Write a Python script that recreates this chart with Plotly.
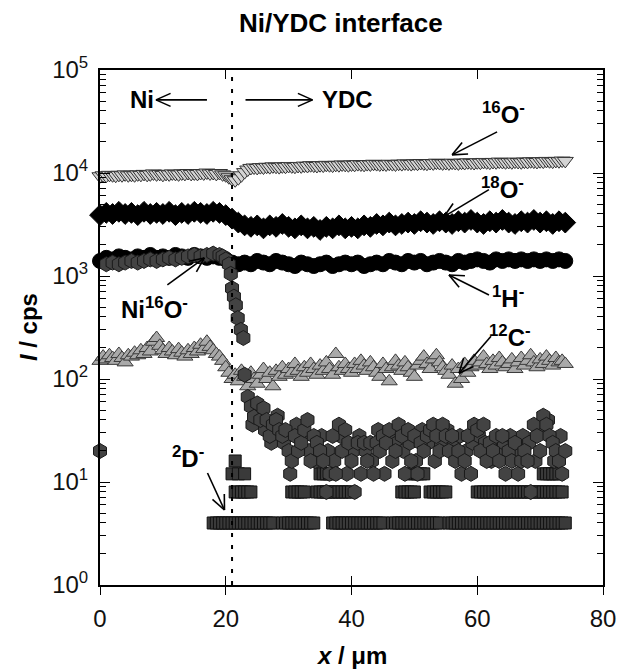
import math
import plotly.graph_objects as go

# ---------------- data ----------------
x_half = [i * 0.5 for i in range(149)]      # 0 .. 74 um, 0.5 um steps
x_one = [i * 1.0 for i in range(75)]        # 0 .. 74 um, 1 um steps

o16 = [9300, 9500, 9400, 9600, 9500, 9400, 9600, 9500, 9700, 9500,
       9600, 9500, 9700, 9600, 9800, 9600, 9700, 9900, 9700, 9800,
       9600, 9800, 9700, 9900, 9800, 9700, 9900, 9800, 10000, 9800,
       9900, 9800, 10000, 9900, 10100, 9900, 10000, 9800, 10000, 9700,
       9500, 9100, 8700, 8500, 8900, 9500, 10200, 10800, 11200, 11300,
       11200, 11400, 11300, 11500, 11400, 11600, 11500, 11400, 11600, 11500,
       11700, 11600, 11500, 11700, 11600, 11800, 11700, 11900, 11800, 11700,
       11900, 11800, 12000, 11900, 11800, 12000, 11900, 12100, 12000, 11900,
       12100, 12000, 12200, 12100, 12000, 12200, 12100, 12300, 12200, 12100,
       12200, 12100, 12300, 12200, 12100, 12300, 12200, 12400, 12300, 12200,
       12400, 12300, 12500, 12400, 12300, 12500, 12400, 12600, 12500, 12400,
       12500, 12400, 12600, 12500, 12400, 12600, 12500, 12700, 12600, 12500,
       12700, 12600, 12800, 12700, 12600, 12800, 12700, 12900, 12800, 12700,
       12800, 12700, 12900, 12800, 12700, 12900, 12800, 13000, 12900, 12800,
       13000, 12900, 13100, 13000, 12900, 13100, 13000, 13200, 13100]

o18 = [3900, 4100, 4000, 4200, 4000, 4100, 3900, 4200, 4000, 4100,
       4000, 4200, 3900, 4100, 4000, 4200, 4100, 4000, 4200, 4100,
       3900, 3600, 3300, 3100, 3000, 3100, 2900, 3100, 3000, 3200,
       3000, 2900, 3100, 2900, 3000, 2800, 3000, 2900, 3100, 2900,
       3000, 2900, 3100, 3000, 3200, 3100, 3300, 3100, 3200, 3300,
       3200, 3400, 3300, 3200, 3400, 3300, 3200, 3400, 3300, 3500,
       3300, 3200, 3400, 3300, 3500, 3300, 3200, 3400, 3300, 3500,
       3300, 3400, 3200, 3400, 3300]

h1 = [1400, 1500, 1450, 1550, 1500, 1450, 1550, 1500, 1600, 1500,
      1550, 1500, 1600, 1550, 1500, 1600, 1550, 1500, 1550, 1500,
      1450, 1350, 1300, 1350, 1300, 1400, 1350, 1300, 1400, 1350,
      1300, 1250, 1350, 1300, 1250, 1300, 1350, 1250, 1300, 1350,
      1300, 1350, 1250, 1300, 1350, 1300, 1400, 1350, 1300, 1400,
      1350, 1400, 1300, 1350, 1400, 1350, 1300, 1400, 1350, 1400,
      1450, 1400, 1350, 1450, 1400, 1450, 1400, 1450, 1400, 1450,
      1400, 1450, 1400, 1450, 1400]

c12 = [150, 165, 155, 170, 160, 150, 175, 160, 145, 170,
       165, 180, 170, 190, 175, 200, 185, 230, 250, 210,
       190, 175, 200, 185, 170, 195, 180, 165, 190, 175,
       200, 185, 215, 195, 230, 205, 190, 175, 165, 150,
       130, 115, 100, 110, 95, 120, 105, 85, 115, 100,
       90, 110, 125, 100, 115, 85, 120, 105, 130, 110,
       125, 115, 140, 120, 105, 130, 115, 140, 125, 110,
       135, 120, 145, 125, 110, 175, 130, 120, 140, 125,
       115, 140, 125, 150, 135, 120, 145, 130, 115, 105,
       140, 125, 95, 130, 150, 135, 120, 145, 130, 115,
       105, 135, 150, 165, 140, 125, 155, 170, 145, 130,
       120, 110, 135, 90, 125, 100, 140, 115, 130, 150,
       135, 145, 165, 140, 125, 150, 135, 160, 145, 130,
       140, 155, 125, 145, 160, 135, 150, 170, 145, 130,
       155, 140, 165, 150, 135, 160, 145, 150, 140]

nio_x = [0, 1, 2, 3, 4, 5, 6, 7, 8, 9, 10, 11, 12, 13, 14, 15, 16, 17, 18, 19,
         19.5, 20, 20.5, 20.8, 21.0, 21.3, 21.6, 21.9, 22.4, 22.8,
         23.0, 23.5, 24.0, 24.5, 25.0, 25.5, 26.0, 26.5, 27.0, 27.5,
         28.0, 28.5, 29.0, 29.5, 30.0, 30.5, 31.0, 31.5, 32.0, 32.5,
         33.0, 33.5, 34.0, 34.5, 35.0, 35.5, 36.0, 36.5, 37.0, 37.5,
         38.0, 38.5, 39.0, 39.5, 40.0, 40.5, 41.0, 41.5, 42.0, 42.5,
         43.0, 43.5, 44.0, 44.5, 45.0, 45.5, 46.0, 46.5, 47.0, 47.5,
         48.0, 48.5, 49.0, 49.5, 50.0, 50.5, 51.0, 51.5, 52.0, 52.5,
         53.0, 53.5, 54.0, 54.5, 55.0, 55.5, 56.0, 56.5, 57.0, 57.5,
         58.0, 58.5, 59.0, 59.5, 60.0, 60.5, 61.0, 61.5, 62.0, 62.5,
         63.0, 63.5, 64.0, 64.5, 65.0, 65.5, 66.0, 66.5, 67.0, 67.5,
         68.0, 68.5, 69.0, 69.5, 70.0, 70.5, 71.0, 71.5, 72.0, 72.5,
         73.0, 73.5, 74.0]
nio_y = [20, 1300, 1350, 1300, 1350, 1400, 1350, 1400, 1450, 1400, 1450, 1500, 1450, 1500,
         1550, 1600, 1550, 1600, 1650, 1600,
         1550, 1450, 1300, 1050, 760, 630, 520, 390, 300, 250,
         110, 67, 54, 43, 58, 40, 52, 40, 28, 36,
         40, 32, 28, 32, 20, 16, 28, 20, 24, 32,
         40, 16, 28, 24, 20, 16, 8, 12, 28, 12,
         36, 20, 32, 24, 16, 8, 24, 12, 24, 16,
         24, 12, 24, 20, 28, 24, 32, 16, 20, 36,
         28, 12, 32, 16, 28, 12, 24, 20, 28, 32,
         36, 28, 20, 36, 28, 20, 28, 16, 20, 12,
         16, 28, 12, 36, 32, 20, 36, 16, 24, 20,
         28, 16, 28, 12, 20, 16, 24, 12, 16, 20,
         16, 8, 36, 28, 20, 44, 36, 28, 24, 20,
         16, 12, 20]
# second NiO sub-scan (interleaved positions) after the interface
nio_x2 = [24.25, 25.25, 26.25, 27.25, 28.25, 29.25, 30.25, 31.25, 32.25, 33.25,
          34.25, 35.25, 36.25, 37.25, 38.25, 39.25, 40.25, 41.25, 42.25, 43.25,
          44.25, 45.25, 46.25, 47.25, 48.25, 49.25, 50.25, 51.25, 52.25, 53.25,
          54.25, 55.25, 56.25, 57.25, 58.25, 59.25, 60.25, 61.25, 62.25, 63.25,
          64.25, 65.25, 66.25, 67.25, 68.25, 69.25, 70.25, 71.25, 72.25, 73.25]
nio_y2 = [36, 48, 32, 24, 44, 24, 12, 36, 28, 20,
          16, 28, 20, 16, 28, 12, 20, 28, 20, 16,
          32, 12, 28, 24, 20, 24, 16, 32, 24, 16,
          24, 32, 24, 28, 20, 24, 28, 24, 16, 20,
          24, 28, 20, 28, 24, 16, 32, 40, 16, 28]

# 2D- counts: x positions of the points at each count level
d2_x4 = [18.0, 18.5, 19.0, 19.5, 20.0, 20.5, 21.0, 21.5, 22.0, 22.5, 23.0, 23.5, 24.0, 24.5,
         25.0, 25.5, 26.0, 26.5, 27.0, 27.5, 29.0, 29.5, 30.0, 30.5, 31.0, 31.5, 32.0, 32.5,
         33.0, 33.5, 34.0, 37.0, 37.5, 38.0, 38.5, 39.0, 39.5, 40.0, 40.5, 41.0, 41.5, 42.0,
         42.5, 43.0, 43.5, 44.0, 44.5, 45.0, 46.5, 47.0, 47.5, 48.0, 48.5, 49.0, 49.5, 50.0,
         50.5, 51.0, 51.5, 52.0, 52.5, 53.0, 53.5, 54.0, 55.5, 56.0, 56.5, 57.0, 57.5, 58.0,
         58.5, 59.0, 59.5, 60.0, 60.5, 61.0, 61.5, 62.0, 62.5, 63.0, 63.5, 64.0, 64.5, 65.0,
         65.5, 66.0, 66.5, 67.0, 67.5, 68.0, 68.5, 69.0, 69.5, 70.0, 70.5, 71.0, 71.5, 72.0,
         72.5, 73.0, 73.5, 74.0]
d2_x8 = [21.5, 22.0, 22.5, 23.0, 23.5, 24.0, 30.5, 31.0, 31.5, 32.0, 32.5,
         34.5, 35.0, 35.5, 36.0, 36.5, 37.0, 37.5, 38.0, 38.5, 39.0, 39.5, 40.0,
         48.0, 48.5, 49.0, 49.5, 50.0, 52.5, 53.0, 53.5, 54.0, 54.5, 55.0,
         60.0, 60.5, 61.0, 61.5, 62.0, 62.5, 63.0, 63.5, 64.0, 64.5, 65.0, 65.5, 66.0,
         66.5, 67.0, 67.5, 68.0, 68.5, 69.0, 69.5, 70.0, 70.5, 71.0, 71.5, 72.0, 72.5,
         73.0, 73.5]
d2_x12 = [21.0, 22.0, 23.0, 35.0, 35.5, 36.0, 36.5, 37.0, 49.5, 50.0, 50.5, 51.0, 51.5,
          70.5, 71.0, 71.5, 72.0, 72.5, 73.0]
d2_x16 = [21.5]

tick_vals = [1, 10, 100, 1000, 10000, 100000]
tick_text = ['10<sup>0</sup>', '10<sup>1</sup>', '10<sup>2</sup>', '10<sup>3</sup>',
             '10<sup>4</sup>', '10<sup>5</sup>']
x_ticks = [0, 20, 40, 60, 80]
interface_x = 21
Y_DECADES = 5   # log y range 10^0 .. 10^5

FONT = 'Liberation Sans, Arial, sans-serif'

fig = go.Figure()

def add(x, y, symbol, size, fill, edge, lw=1.0):
    fig.add_trace(go.Scatter(x=x, y=y, mode='markers', cliponaxis=False,
                             marker=dict(symbol=symbol, size=size, color=fill,
                                         line=dict(color=edge, width=lw)),
                             showlegend=False, hoverinfo='skip'))

d_x = d2_x4 + d2_x8 + d2_x12 + d2_x16
d_y = [4] * len(d2_x4) + [8] * len(d2_x8) + [12] * len(d2_x12) + [16] * len(d2_x16)
add(d_x, d_y, 'square', 12, '#3a3a3a', '#111111')
add(x_half, c12, 'triangle-up', 14, '#a9a9a9', '#3a3a3a')
add(x_one, h1, 'circle', 15, '#000000', '#000000')
add(nio_x2, nio_y2, 'hexagon', 15, '#434343', '#1a1a1a')
add(nio_x, nio_y, 'hexagon', 15, '#434343', '#1a1a1a')
add(x_half, o16, 'triangle-down', 14, '#d4d4d4', '#333333')
add(x_one, o18, 'diamond', 16, '#000000', '#000000')

shapes = [dict(type='line', x0=interface_x, x1=interface_x, y0=0, y1=1,
               xref='x', yref='paper', line=dict(color='black', width=2, dash='4px,8px'))]

ann = []
# labels: (text, x, log10 y)
labels = [
    ('<b>Ni</b>', 6.6, 4.71),
    ('<b>YDC</b>', 39.3, 4.71),
    ('<b><sup>16</sup>O<sup>-</sup></b>', 64.1, 4.58),
    ('<b><sup>18</sup>O<sup>-</sup></b>', 64.0, 3.85),
    ('<b><sup>1</sup>H<sup>-</sup></b>', 64.9, 2.80),
    ('<b><sup>12</sup>C<sup>-</sup></b>', 65.2, 2.42),
    ('<b>Ni<sup>16</sup>O<sup>-</sup></b>', 8.6, 2.69),
    ('<b><sup>2</sup>D<sup>-</sup></b>', 14.0, 1.24),
]
for t, x, ly in labels:
    ann.append(dict(text=t, x=x, y=ly, xref='x', yref='y', showarrow=False,
                    font=dict(family=FONT, size=24, color='black'),
                    xanchor='center', yanchor='middle'))

# arrows: head (x, log10 y), tail offset in screen pixels (dx right, dy down)
arrows = [
    (8.9, 4.71, 51, 0),
    (33.8, 4.71, -67, 0),
    (56.0, 4.176, 45, -23),
    (54.7, 3.576, 45, -27),
    (55.5, 3.01, 40, 20),
    (57.1, 2.055, 32, -37),
    (16.6, 3.175, -37, 27),
    (19.8, 0.728, -17, -37),
]

def seg(hx, hy, dx, dy):
    # pixel-sized line anchored at the arrow head; y anchor in paper units
    # (paper fraction = log10 value / number of decades), pixel y is upward
    return dict(type='line', xref='x', yref='paper', xsizemode='pixel', ysizemode='pixel',
                xanchor=hx, yanchor=hy / Y_DECADES, x0=0, y0=0, x1=dx, y1=-dy,
                line=dict(color='black', width=1.6))

for hx, hy, dx, dy in arrows:
    shapes.append(seg(hx, hy, dx, dy))
    L = math.hypot(dx, dy)
    ux, uy = dx / L, dy / L
    for ang in (math.radians(24), math.radians(-24)):
        bx = ux * math.cos(ang) - uy * math.sin(ang)
        by = ux * math.sin(ang) + uy * math.cos(ang)
        shapes.append(seg(hx, hy, bx * 16, by * 16))

ann.append(dict(text='<b>Ni/YDC interface</b>', x=0.4786, y=1 + (70 - 23) / 515,
                xref='paper', yref='paper', showarrow=False,
                font=dict(family=FONT, size=26, color='black'),
                xanchor='center', yanchor='middle'))
ann.append(dict(text='<b><i>x</i> / μm</b>', x=0.5, y=-(655 - 585) / 515,
                xref='paper', yref='paper', showarrow=False,
                font=dict(family=FONT, size=24, color='black'),
                xanchor='center', yanchor='middle'))
ann.append(dict(text='<b><i>I</i> / cps</b>', x=(27 - 100) / 514, y=0.5, textangle=-90,
                xref='paper', yref='paper', showarrow=False,
                font=dict(family=FONT, size=24, color='black'),
                xanchor='center', yanchor='middle'))

minor_vals = [m * 10 ** e for e in range(0, 5) for m in range(2, 10)]

fig.update_layout(
    width=628, height=670,
    margin=dict(l=100, r=14, t=70, b=85),
    paper_bgcolor='white', plot_bgcolor='white',
    font=dict(family=FONT, size=24, color='#111111'),
    annotations=ann, shapes=shapes,
    xaxis=dict(range=[0, 80], tickvals=x_ticks, ticks='outside', ticklen=8, tickwidth=1.2,
               tickcolor='black', showline=True, linewidth=2, linecolor='black',
               mirror=True, showgrid=False, zeroline=False, ticklabelstandoff=3,
               tickfont=dict(family=FONT, size=24, color='#111111')),
    xaxis2=dict(range=[0, 80], tickvals=x_ticks, ticks='inside', ticklen=9, tickwidth=1.2,
                tickcolor='black', overlaying='x', side='bottom', anchor='y',
                mirror='ticks', showticklabels=False, showgrid=False, zeroline=False,
                showline=False),
    yaxis=dict(type='log', range=[0, Y_DECADES], tickvals=tick_vals, ticktext=tick_text,
               ticks='inside', ticklen=10, tickwidth=1.2, tickcolor='black',
               showline=True, linewidth=2, linecolor='black', mirror='ticks',
               showgrid=False, zeroline=False, ticklabelstandoff=5,
               minor=dict(tickvals=minor_vals, ticks='inside', ticklen=6, tickwidth=1,
                          tickcolor='black', showgrid=False),
               tickfont=dict(family=FONT, size=24, color='#111111')),
)
# placeholder trace so the overlaying tick axis is drawn
fig.add_trace(go.Scatter(x=[None], y=[None], xaxis='x2', yaxis='y', showlegend=False,
                         hoverinfo='skip'))

fig.write_html('out.html')
